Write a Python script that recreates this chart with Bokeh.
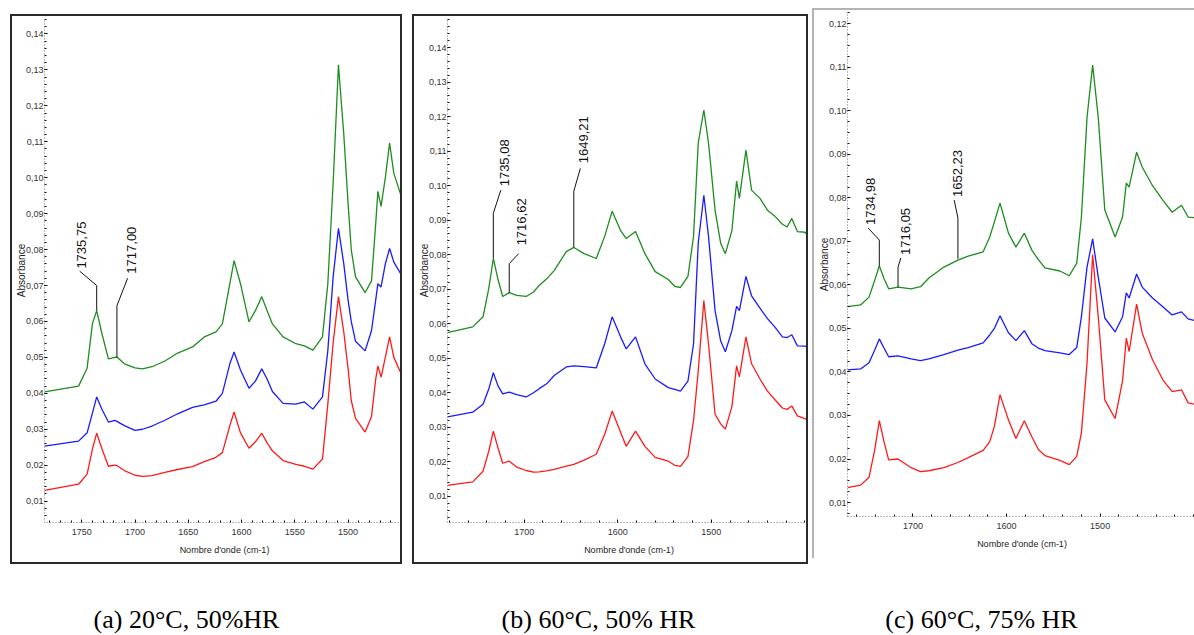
import math
from bokeh.plotting import figure
from bokeh.layouts import row, column
from bokeh.models import Range1d, FixedTicker, CustomJSTickFormatter, Label
from bokeh.core.properties import value
from bokeh.embed import file_html
from bokeh.resources import INLINE

# ---------------- data ----------------
# Panel (a) 20°C, 50% HR
wn_a = [1785, 1753, 1745, 1740, 1736, 1731, 1725, 1719, 1717, 1710,
        1700, 1693, 1684, 1672, 1660, 1646, 1635, 1624, 1618, 1611,
        1607, 1601, 1593, 1587, 1581, 1576, 1571, 1561, 1549, 1541,
        1533, 1524, 1519, 1514, 1509, 1504, 1500, 1497, 1493, 1484,
        1478, 1474, 1472, 1469, 1465, 1461, 1457, 1451, 1447]
green_a = [0.0404, 0.0420, 0.0470, 0.0594, 0.0630, 0.0565, 0.0496, 0.0500, 0.0501, 0.0482,
           0.0471, 0.0468, 0.0474, 0.0490, 0.0512, 0.0529, 0.0557, 0.0571, 0.0593, 0.0705,
           0.0769, 0.0705, 0.0599, 0.0630, 0.0669, 0.0630, 0.0593, 0.0557, 0.0538, 0.0532,
           0.0520, 0.0557, 0.0705, 0.0985, 0.1314, 0.1120, 0.0930, 0.0800, 0.0724, 0.0680,
           0.0713, 0.0873, 0.0962, 0.0920, 0.1000, 0.1096, 0.1012, 0.0957, 0.0910]
blue_a = [0.0253, 0.0267, 0.0290, 0.0345, 0.0390, 0.0355, 0.0320, 0.0325, 0.0322, 0.0310,
          0.0297, 0.0300, 0.0309, 0.0325, 0.0343, 0.0361, 0.0368, 0.0378, 0.0400, 0.0482,
          0.0515, 0.0465, 0.0414, 0.0434, 0.0468, 0.0440, 0.0405, 0.0372, 0.0370, 0.0376,
          0.0356, 0.0390, 0.0518, 0.0724, 0.0859, 0.0760, 0.0660, 0.0600, 0.0545, 0.0518,
          0.0574, 0.0660, 0.0705, 0.0696, 0.0760, 0.0803, 0.0765, 0.0735, 0.0720]
red_a = [0.0130, 0.0147, 0.0175, 0.0245, 0.0289, 0.0245, 0.0197, 0.0200, 0.0199, 0.0185,
         0.0172, 0.0169, 0.0171, 0.0180, 0.0188, 0.0196, 0.0210, 0.0222, 0.0235, 0.0310,
         0.0348, 0.0290, 0.0247, 0.0265, 0.0289, 0.0262, 0.0240, 0.0213, 0.0202, 0.0197,
         0.0189, 0.0217, 0.0370, 0.0540, 0.0669, 0.0570, 0.0470, 0.0380, 0.0330, 0.0292,
         0.0335, 0.0440, 0.0476, 0.0445, 0.0500, 0.0557, 0.0500, 0.0460, 0.0440]

# Panel (b) 60°C, 50% HR
wn_b = [1782, 1755, 1744, 1738, 1733, 1728, 1723, 1716, 1708, 1698,
        1690, 1684, 1676, 1668, 1655, 1647, 1636, 1623, 1614, 1606,
        1597, 1591, 1581, 1571, 1560, 1546, 1539, 1533, 1525, 1519,
        1514, 1508, 1503, 1496, 1490, 1485, 1478, 1473, 1470, 1463,
        1457, 1448, 1440, 1432, 1424, 1419, 1414, 1408, 1400, 1394]
green_b = [0.0574, 0.0591, 0.0620, 0.0700, 0.0789, 0.0728, 0.0679, 0.0690, 0.0682, 0.0679,
           0.0692, 0.0711, 0.0730, 0.0754, 0.0809, 0.0821, 0.0803, 0.0789, 0.0853, 0.0926,
           0.0870, 0.0847, 0.0867, 0.0803, 0.0751, 0.0728, 0.0708, 0.0705, 0.0737, 0.0853,
           0.1123, 0.1219, 0.1123, 0.0929, 0.0833, 0.0803, 0.0870, 0.1013, 0.0963, 0.1103,
           0.0987, 0.0963, 0.0929, 0.0911, 0.0888, 0.0880, 0.0905, 0.0867, 0.0865, 0.0847]
blue_b = [0.0330, 0.0344, 0.0367, 0.0410, 0.0458, 0.0420, 0.0397, 0.0402, 0.0395, 0.0388,
          0.0400, 0.0412, 0.0426, 0.0450, 0.0475, 0.0478, 0.0476, 0.0472, 0.0542, 0.0620,
          0.0562, 0.0527, 0.0562, 0.0484, 0.0440, 0.0415, 0.0410, 0.0405, 0.0434, 0.0542,
          0.0833, 0.0972, 0.0853, 0.0638, 0.0550, 0.0519, 0.0580, 0.0650, 0.0638, 0.0737,
          0.0681, 0.0645, 0.0615, 0.0590, 0.0562, 0.0560, 0.0568, 0.0536, 0.0535, 0.0533]
red_b = [0.0132, 0.0142, 0.0173, 0.0230, 0.0289, 0.0240, 0.0196, 0.0202, 0.0185, 0.0175,
         0.0170, 0.0171, 0.0174, 0.0178, 0.0188, 0.0193, 0.0205, 0.0222, 0.0280, 0.0347,
         0.0286, 0.0245, 0.0289, 0.0245, 0.0213, 0.0202, 0.0190, 0.0187, 0.0215, 0.0320,
         0.0463, 0.0667, 0.0542, 0.0338, 0.0310, 0.0295, 0.0360, 0.0478, 0.0446, 0.0562,
         0.0484, 0.0440, 0.0405, 0.0380, 0.0356, 0.0352, 0.0362, 0.0333, 0.0325, 0.0318]

# Panel (c) 60°C, 75% HR
wn_c = [1770, 1756, 1747, 1741, 1736, 1731, 1726, 1716, 1702, 1692,
        1683, 1667, 1652, 1641, 1625, 1618, 1613, 1607, 1598, 1590,
        1581, 1573, 1566, 1559, 1543, 1533, 1525, 1520, 1514, 1508,
        1502, 1495, 1484, 1476, 1472, 1469, 1461, 1455, 1444, 1433,
        1423, 1413, 1406, 1397]
green_c = [0.0550, 0.0554, 0.0572, 0.0610, 0.0644, 0.0615, 0.0591, 0.0595, 0.0591, 0.0596,
           0.0616, 0.0641, 0.0657, 0.0666, 0.0676, 0.0710, 0.0745, 0.0788, 0.0719, 0.0687,
           0.0719, 0.0680, 0.0658, 0.0639, 0.0632, 0.0621, 0.0650, 0.0756, 0.0985, 0.1105,
           0.0985, 0.0772, 0.0710, 0.0756, 0.0834, 0.0825, 0.0905, 0.0871, 0.0828, 0.0795,
           0.0767, 0.0783, 0.0756, 0.0754]
blue_c = [0.0405, 0.0407, 0.0421, 0.0450, 0.0476, 0.0455, 0.0435, 0.0437, 0.0430, 0.0426,
          0.0430, 0.0440, 0.0450, 0.0456, 0.0467, 0.0485, 0.0500, 0.0529, 0.0490, 0.0472,
          0.0495, 0.0465, 0.0455, 0.0449, 0.0444, 0.0440, 0.0456, 0.0527, 0.0641, 0.0706,
          0.0618, 0.0524, 0.0492, 0.0527, 0.0582, 0.0570, 0.0625, 0.0595, 0.0570, 0.0550,
          0.0531, 0.0538, 0.0522, 0.0517]
red_c = [0.0134, 0.0140, 0.0158, 0.0220, 0.0288, 0.0240, 0.0198, 0.0200, 0.0180, 0.0171,
         0.0173, 0.0180, 0.0192, 0.0203, 0.0220, 0.0240, 0.0275, 0.0348, 0.0290, 0.0247,
         0.0288, 0.0251, 0.0222, 0.0208, 0.0197, 0.0187, 0.0206, 0.0260, 0.0420, 0.0669,
         0.0527, 0.0336, 0.0293, 0.0380, 0.0478, 0.0447, 0.0556, 0.0489, 0.0428, 0.0382,
         0.0355, 0.0359, 0.0329, 0.0325]

# Peak annotations (label, peak wavenumber, peak absorbance, bend, end of leader, text anchor)
ann_a_text = ["1735,75", "1717,00"]
ann_a_peak_wn = [1736, 1717]
ann_a_peak_abs = [0.0630, 0.0501]
ann_a_bend_abs = [0.0700, 0.0644]
ann_a_end_wn = [1752, 1707]
ann_a_end_abs = [0.0740, 0.0720]
ann_a_text_wn = [1750, 1703]
ann_a_text_abs = [0.0747, 0.0733]

ann_b_text = ["1735,08", "1716,62", "1649,21"]
ann_b_peak_wn = [1733, 1716, 1647]
ann_b_peak_abs = [0.0789, 0.0690, 0.0821]
ann_b_bend_abs = [0.0920, 0.0774, 0.0984]
ann_b_end_wn = [1725, 1706, 1640]
ann_b_end_abs = [0.0987, 0.0803, 0.1050]
ann_b_text_wn = [1721.5, 1703, 1637]
ann_b_text_abs = [0.0998, 0.0827, 0.1065]

ann_c_text = ["1734,98", "1716,05", "1652,23"]
ann_c_peak_wn = [1736, 1716, 1652]
ann_c_peak_abs = [0.0644, 0.0595, 0.0660]
ann_c_bend_abs = [0.0703, 0.0641, 0.0754]
ann_c_end_wn = [1748, 1713, 1656]
ann_c_end_abs = [0.0731, 0.0662, 0.0795]
ann_c_text_wn = [1745, 1707.6, 1652.8]
ann_c_text_abs = [0.0738, 0.0669, 0.0802]

# Tick labels
xticks_a = [1750, 1700, 1650, 1600, 1550, 1500]
xminor_a = list(range(1450, 1790, 10))
xticks_bc = [1700, 1600, 1500]
xminor_bc = list(range(1400, 1790, 20))
yticks_ab = [0.01, 0.02, 0.03, 0.04, 0.05, 0.06, 0.07, 0.08, 0.09, 0.10, 0.11, 0.12, 0.13, 0.14]
yminor_ab = [round(0.002 * i, 4) for i in range(0, 75)]
yticks_c = [0.01, 0.02, 0.03, 0.04, 0.05, 0.06, 0.07, 0.08, 0.09, 0.10, 0.11, 0.12]
yminor_c = [round(0.0025 * i, 4) for i in range(0, 50)]

captions = ["(a) 20°C, 50%HR", "(b) 60°C, 50% HR", "(c) 60°C, 75% HR"]

GREEN = "#1e8c1e"
BLUE = "#1a1aff"
RED = "#ff1a1a"

SANS = "Liberation Sans"


def make_panel(wn, g, b, r, xr, yr, xt, xm, yt, ym, ann, w, h, mb, styles):
    p = figure(width=w, height=h, x_range=Range1d(*xr), y_range=Range1d(*yr),
               output_backend="svg", toolbar_location=None,
               min_border_left=mb[0], min_border_right=mb[1],
               min_border_top=mb[2], min_border_bottom=mb[3],
               styles=styles)
    p.grid.visible = False
    p.outline_line_color = None
    p.background_fill_color = "white"
    p.border_fill_color = "white"

    p.line(wn, g, color=GREEN, line_width=1.3)
    p.line(wn, b, color=BLUE, line_width=1.3)
    p.line(wn, r, color=RED, line_width=1.3)

    txt, pk_wn, pk_abs, bend_abs, end_wn, end_abs, t_wn, t_abs = ann
    xs = [[pw, pw, ew] for pw, ew in zip(pk_wn, end_wn)]
    ys = [[pa, ba, ea] for pa, ba, ea in zip(pk_abs, bend_abs, end_abs)]
    p.multi_line(xs, ys, line_color="#111111", line_width=1)
    p.text(x=t_wn, y=t_abs, text=txt, angle=math.pi / 2,
           text_align="left", text_baseline="middle",
           text_font=value(SANS), text_font_size="13px",
           text_color="#111111")

    xa = p.xaxis[0]
    xa.ticker = FixedTicker(ticks=xt, minor_ticks=xm)
    xa.axis_label = "Nombre d'onde (cm-1)"
    ya = p.yaxis[0]
    ya.ticker = FixedTicker(ticks=yt, minor_ticks=ym)
    ya.formatter = CustomJSTickFormatter(code="return tick.toFixed(2).replace('.', ',');")
    ya.axis_label = "Absorbance"
    for ax in (xa, ya):
        ax.axis_line_color = "#777777"
        ax.axis_line_dash = "1 2"
        ax.major_tick_in = 3
        ax.major_tick_out = 0
        ax.minor_tick_in = 2
        ax.minor_tick_out = 0
        ax.major_tick_line_color = "#111111"
        ax.minor_tick_line_color = "#111111"
        ax.major_label_text_font = SANS
        ax.major_label_text_font_size = "9px"
        ax.major_label_text_color = "#333333"
        ax.axis_label_text_font = SANS
        ax.axis_label_text_font_style = "normal"
        ax.axis_label_text_color = "#222222"
    xa.axis_label_text_font_size = "9px"
    xa.major_label_standoff = 6
    xa.axis_label_standoff = 7
    ya.major_label_standoff = 1
    ya.axis_label_text_font_size = "10px"
    ya.axis_label_standoff = -4
    return p


dark = {"border": "2px solid #2a2a2a", "box-sizing": "content-box"}
light = {"border-left": "2px solid #b4b4b4", "border-top": "2px solid #b4b4b4",
         "box-sizing": "content-box"}

pa = make_panel(wn_a, green_a, blue_a, red_a, (1785, 1447), (0.00405, 0.1443),
                xticks_a, xminor_a, yticks_ab, yminor_ab,
                (ann_a_text, ann_a_peak_wn, ann_a_peak_abs, ann_a_bend_abs,
                 ann_a_end_wn, ann_a_end_abs, ann_a_text_wn, ann_a_text_abs),
                388, 546, (31, 0, 0, 44), dark)
pa.margin = (14, 0, 0, 10)

pb = make_panel(wn_b, green_b, blue_b, red_b, (1782, 1394), (0.00244, 0.1484),
                xticks_bc, xminor_bc, yticks_ab, yminor_ab,
                (ann_b_text, ann_b_peak_wn, ann_b_peak_abs, ann_b_bend_abs,
                 ann_b_end_wn, ann_b_end_abs, ann_b_text_wn, ann_b_text_abs),
                392, 546, (33, 0, 0, 44), dark)
pb.margin = (14, 0, 0, 10)

pc = make_panel(wn_c, green_c, blue_c, red_c, (1770, 1397), (0.00679, 0.1226),
                xticks_bc, xminor_bc, yticks_c, yminor_c,
                (ann_c_text, ann_c_peak_wn, ann_c_peak_abs, ann_c_bend_abs,
                 ann_c_end_wn, ann_c_end_abs, ann_c_text_wn, ann_c_text_abs),
                380, 548, (33, 0, 2, 41), light)
pc.margin = (8, 0, 0, 4)

cap = figure(width=1194, height=70, x_range=Range1d(0, 1194), y_range=Range1d(0, 70),
             output_backend="svg", toolbar_location=None, min_border=0)
cap.axis.visible = False
cap.grid.visible = False
cap.outline_line_color = None
for txt, cx in zip(captions, [186, 598, 981]):
    cap.add_layout(Label(x=cx, y=1, text=txt, text_align="center",
                         text_baseline="bottom", text_font="Liberation Serif",
                         text_font_size="26px", text_color="#000000"))

layout = column(row(pa, pb, pc, spacing=0), cap, spacing=0)
open("out.html", "w").write(file_html(layout, INLINE))
